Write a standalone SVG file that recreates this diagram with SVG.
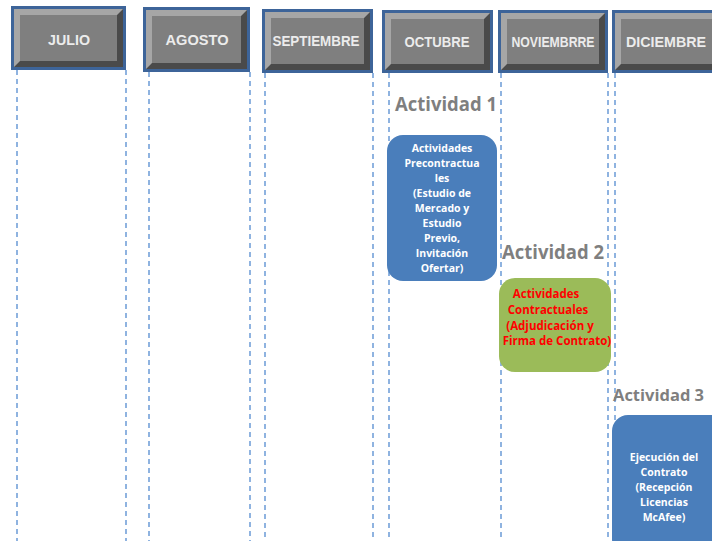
<svg xmlns="http://www.w3.org/2000/svg" width="712" height="541" viewBox="0 0 712 541">
<style>
.dl{stroke:#6b9bd6;stroke-width:1.5;stroke-dasharray:5 4;fill:none}
.ht{font-family:"Liberation Sans",Arial,sans-serif;font-weight:bold;font-size:14px;fill:#ececec;text-anchor:middle}
.al{font-family:"Open Sans","Liberation Sans",sans-serif;font-weight:bold;font-size:19px;fill:#7f7f7f}
.wt{font-family:"Open Sans","Liberation Sans",sans-serif;font-weight:bold;font-size:10.5px;fill:#ffffff;text-anchor:middle}
.rt{font-family:"Open Sans","Liberation Sans",sans-serif;font-weight:bold;font-size:11.5px;fill:#ff0000;text-anchor:middle}
.ob{fill:#3d6499}
.dk{fill:#4a4a4a}
.lt{fill:#a6a6a6}
.fc{fill:#7f7f7f}
</style>
<rect width="712" height="541" fill="#ffffff"/>
<g id="connectors">
<line class="dl" x1="17" y1="70" x2="17" y2="541"/>
<line class="dl" x1="126" y1="70" x2="126" y2="541"/>
<line class="dl" x1="149" y1="72" x2="149" y2="541"/>
<line class="dl" x1="250" y1="72" x2="250" y2="541"/>
<line class="dl" x1="265" y1="73" x2="265" y2="541"/>
<line class="dl" x1="373" y1="73" x2="373" y2="541"/>
<line class="dl" x1="389" y1="73" x2="389" y2="541"/>
<line class="dl" x1="501" y1="73" x2="501" y2="541"/>
<line class="dl" x1="608" y1="73" x2="608" y2="541"/>
<line class="dl" x1="615" y1="73" x2="615" y2="541"/>
</g>
<g id="julio">
<rect class="ob" x="11" y="6" width="115" height="64"/>
<rect class="dk" x="14" y="9" width="109" height="58"/>
<polygon class="lt" points="14,9 123,9 117,15 20,15 20,61 14,67"/>
<rect class="fc" x="20" y="15" width="97" height="46"/>
<text class="ht" x="69" y="45" textLength="42" lengthAdjust="spacingAndGlyphs">JULIO</text>
</g>
<g id="agosto">
<rect class="ob" x="143" y="7" width="107" height="65"/>
<rect class="dk" x="146" y="10" width="101" height="59"/>
<polygon class="lt" points="146,10 247,10 241,16 152,16 152,63 146,69"/>
<rect class="fc" x="152" y="16" width="89" height="47"/>
<text class="ht" x="197" y="45" textLength="63" lengthAdjust="spacingAndGlyphs">AGOSTO</text>
</g>
<g id="septiembre">
<rect class="ob" x="262" y="9" width="111" height="64"/>
<rect class="dk" x="265" y="12" width="105" height="58"/>
<polygon class="lt" points="265,12 370,12 364,18 271,18 271,64 265,70"/>
<rect class="fc" x="271" y="18" width="93" height="46"/>
<text class="ht" x="316" y="46" textLength="87" lengthAdjust="spacingAndGlyphs">SEPTIEMBRE</text>
</g>
<g id="octubre">
<rect class="ob" x="382" y="10" width="111" height="63"/>
<rect class="dk" x="385" y="13" width="105" height="57"/>
<polygon class="lt" points="385,13 490,13 484,19 391,19 391,64 385,70"/>
<rect class="fc" x="391" y="19" width="93" height="45"/>
<text class="ht" x="437" y="47" textLength="65" lengthAdjust="spacingAndGlyphs">OCTUBRE</text>
</g>
<g id="noviembre">
<rect class="ob" x="498" y="10" width="110" height="63"/>
<rect class="dk" x="501" y="13" width="104" height="57"/>
<polygon class="lt" points="501,13 605,13 599,19 507,19 507,64 501,70"/>
<rect class="fc" x="507" y="19" width="92" height="45"/>
<text class="ht" x="553" y="47" textLength="83" lengthAdjust="spacingAndGlyphs">NOVIEMBRRE</text>
</g>
<g id="diciembre">
<rect class="ob" x="612" y="10" width="110" height="63"/>
<rect class="dk" x="615" y="13" width="104" height="57"/>
<polygon class="lt" points="615,13 719,13 713,19 621,19 621,64 615,70"/>
<rect class="fc" x="621" y="19" width="92" height="45"/>
<text class="ht" x="666" y="47" textLength="80" lengthAdjust="spacingAndGlyphs">DICIEMBRE</text>
</g>
<g id="actividad1">
<text class="al" x="395" y="111" textLength="102" lengthAdjust="spacingAndGlyphs">Actividad 1</text>
<rect x="387" y="135" width="110" height="146" rx="16" fill="#4a7ebb"/>
<text class="wt" x="442" y="152">Actividades</text>
<text class="wt" x="442" y="167">Precontractua</text>
<text class="wt" x="442" y="182">les</text>
<text class="wt" x="442" y="197">(Estudio de</text>
<text class="wt" x="442" y="212">Mercado y</text>
<text class="wt" x="442" y="227">Estudio</text>
<text class="wt" x="442" y="242">Previo,</text>
<text class="wt" x="442" y="257">Invitación</text>
<text class="wt" x="442" y="272">Ofertar)</text>
</g>
<g id="actividad2">
<text class="al" x="502" y="259" textLength="102" lengthAdjust="spacingAndGlyphs">Actividad 2</text>
<rect x="499" y="278" width="112" height="94" rx="16" fill="#9bbb59"/>
<text class="rt" x="546" y="298">Actividades</text>
<text class="rt" x="548" y="314">Contractuales</text>
<text class="rt" x="550" y="330">(Adjudicación y</text>
<text class="rt" x="557" y="345">Firma de Contrato)</text>
</g>
<g id="actividad3">
<text class="al" x="613" y="401" style="font-size:16.5px">Actividad 3</text>
<rect x="612" y="415" width="120" height="140" rx="16" fill="#4a7ebb"/>
<text class="wt" x="664" y="461">Ejecución del</text>
<text class="wt" x="664" y="476">Contrato</text>
<text class="wt" x="664" y="491">(Recepción</text>
<text class="wt" x="664" y="506">Licencias</text>
<text class="wt" x="664" y="521">McAfee)</text>
</g>
</svg>
